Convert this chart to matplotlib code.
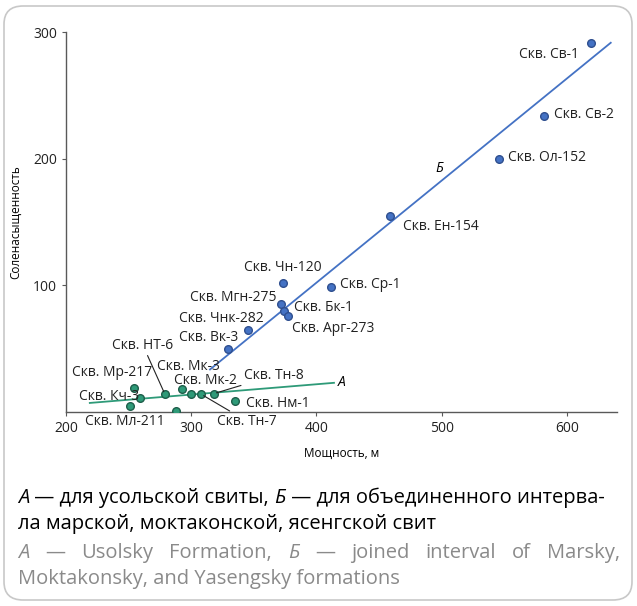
import matplotlib
matplotlib.use("Agg")
import matplotlib.pyplot as plt
from matplotlib.patches import FancyBboxPatch

plt.rcParams['font.family'] = ['Open Sans', 'DejaVu Sans']

# --- data ---
wells_b = ['Скв. Св-1', 'Скв. Св-2', 'Скв. Ол-152', 'Скв. Ен-154', 'Скв. Чн-120', 'Скв. Ср-1',
           'Скв. Мгн-275', 'Скв. Бк-1', 'Скв. Арг-273', 'Скв. Чнк-282', 'Скв. Вк-3']
thick_b = [619, 582, 546, 459, 373, 412, 372, 374, 377, 345, 329]
sat_b = [291, 234, 200, 155, 102, 99, 85, 80, 76, 65, 50]

wells_a = ['Скв. Мр-217', 'Скв. Кч-3', 'Скв. Мл-211', 'Скв. НТ-6', '', 'Скв. Мк-3',
           'Скв. Мк-2', 'Скв. Тн-7', 'Скв. Тн-8', 'Скв. Нм-1']
thick_a = [254, 259, 251, 279, 288, 293, 300, 308, 318, 335]
sat_a = [19, 11, 5, 14, 1, 18, 14.5, 14, 14.5, 9]

# trend lines: slope, intercept, x range
trend_b = (0.806, -220.3, 315, 635)
trend_a = (0.0815, -10.7, 219, 414)

# label offsets in pixels (dx, dy, ha)
offs_b = [(-12, -11, 'right'), (10, 1, 'left'), (9, 1, 'left'), (13, -11, 'left'),
          (0, 15, 'center'), (9, 2, 'left'), (-5, 7, 'right'), (10, 3, 'left'),
          (4, -13, 'left'), (16, 11, 'right'), (11, 11, 'right')]
offs_a = [(19, 15, 'right'), (-1, 2, 'right'), (-5, -16, 'center'), (-22, 49, 'center'),
          (0, 0, 'center'), (6, 23, 'center'), (14, 13, 'center'), (16, -27, 'left'),
          (30, 18, 'left'), (11, -3, 'left')]
leaders_a = ['Скв. НТ-6', 'Скв. Тн-7', 'Скв. Тн-8']

W, H = 637, 606
fig = plt.figure(figsize=(W / 100, H / 100), dpi=100)
fig.patches.append(FancyBboxPatch((4 / W, 6 / H), 628 / W, 594 / H,
                                  boxstyle='round,pad=0,rounding_size=0.03',
                                  transform=fig.transFigure, fc='none',
                                  ec='#c8c8c8', lw=1.2, zorder=-1))

ax = fig.add_axes([66 / W, 1 - 412 / H, 551 / W, 380 / H])
ax.patch.set_alpha(0)
ax.set_xlim(200, 640)
ax.set_ylim(0, 300)
ax.set_xticks([200, 300, 400, 500, 600])
ax.set_yticks([100, 200, 300])
for s in ['top', 'right']:
    ax.spines[s].set_visible(False)
for s in ['left', 'bottom']:
    ax.spines[s].set_color('#595959')
    ax.spines[s].set_linewidth(1.0)
ax.tick_params(length=3, color='#595959', labelsize=10, labelcolor='#222222')
ax.set_xlabel('Мощность, м', fontsize=8.5, labelpad=8)
ax.set_ylabel('Соленасыщенность', fontsize=8.5, labelpad=8)

blue, blue_edge = '#4472C4', '#2F4F8F'
green, green_edge = '#2E9A78', '#1D5E4A'

for (k, b, x0, x1), col in [(trend_b, blue), (trend_a, green)]:
    ax.plot([x0, x1], [k * x0 + b, k * x1 + b], color=col, lw=1.3, zorder=2)

ax.plot(thick_b, sat_b, 'o', ms=5.5, mfc=blue, mec=blue_edge, mew=1, zorder=3)
ax.plot(thick_a, sat_a, 'o', ms=5.5, mfc=green, mec=green_edge, mew=1, zorder=3)

for name, x, y, (dx, dy, ha) in zip(wells_b, thick_b, sat_b, offs_b):
    ax.annotate(name, (x, y), xytext=(dx, dy), textcoords='offset pixels',
                ha=ha, va='center', fontsize=10, color='#222222')
for name, x, y, (dx, dy, ha) in zip(wells_a, thick_a, sat_a, offs_a):
    if not name:
        continue
    arrow = dict(arrowstyle='-', color='#222222', lw=0.8, shrinkA=0, shrinkB=2) \
        if name in leaders_a else None
    ax.annotate(name, (x, y), xytext=(dx, dy), textcoords='offset pixels',
                ha=ha, va='center', fontsize=10, color='#222222', arrowprops=arrow)

ax.text(498, 192, 'Б', style='italic', fontsize=10, ha='center', va='center')
ax.text(420, 23, 'А', style='italic', fontsize=10, ha='center', va='center')

# --- caption ---
fig.canvas.draw()
rend = fig.canvas.get_renderer()


def place(segs, x0, y, color, size, x1=None):
    arts = []
    for s, st in segs:
        t = fig.text(0, 0, s, style=st, fontsize=size, color=color,
                     va='baseline', ha='left')
        arts.append(t)
    widths = [t.get_window_extent(rend).width for t in arts]
    gap = 0
    if x1 is not None and len(arts) > 1:
        gap = (x1 - x0 - sum(widths)) / (len(arts) - 1)
    x = x0
    for t, w in zip(arts, widths):
        t.set_position((x / W, 1 - y / H))
        x += w + gap


size = 14.5
place([('А', 'italic'), (' — для усольской свиты, ', 'normal'), ('Б', 'italic'),
       (' — для объединенного интерва-', 'normal')], 18, 503, 'black', size)
place([('ла марской, моктаконской, ясенгской свит', 'normal')], 18, 529, 'black', size)
words = [('А', 'italic'), ('—', 'normal'), ('Usolsky', 'normal'), ('Formation,', 'normal'),
         ('Б', 'italic'), ('—', 'normal'), ('joined', 'normal'), ('interval', 'normal'),
         ('of', 'normal'), ('Marsky,', 'normal')]
place(words, 18, 558, '#8a8a8a', size, x1=620)
place([('Moktakonsky, and Yasengsky formations', 'normal')], 18, 584, '#8a8a8a', size)

fig.savefig('out.png', dpi=100)
